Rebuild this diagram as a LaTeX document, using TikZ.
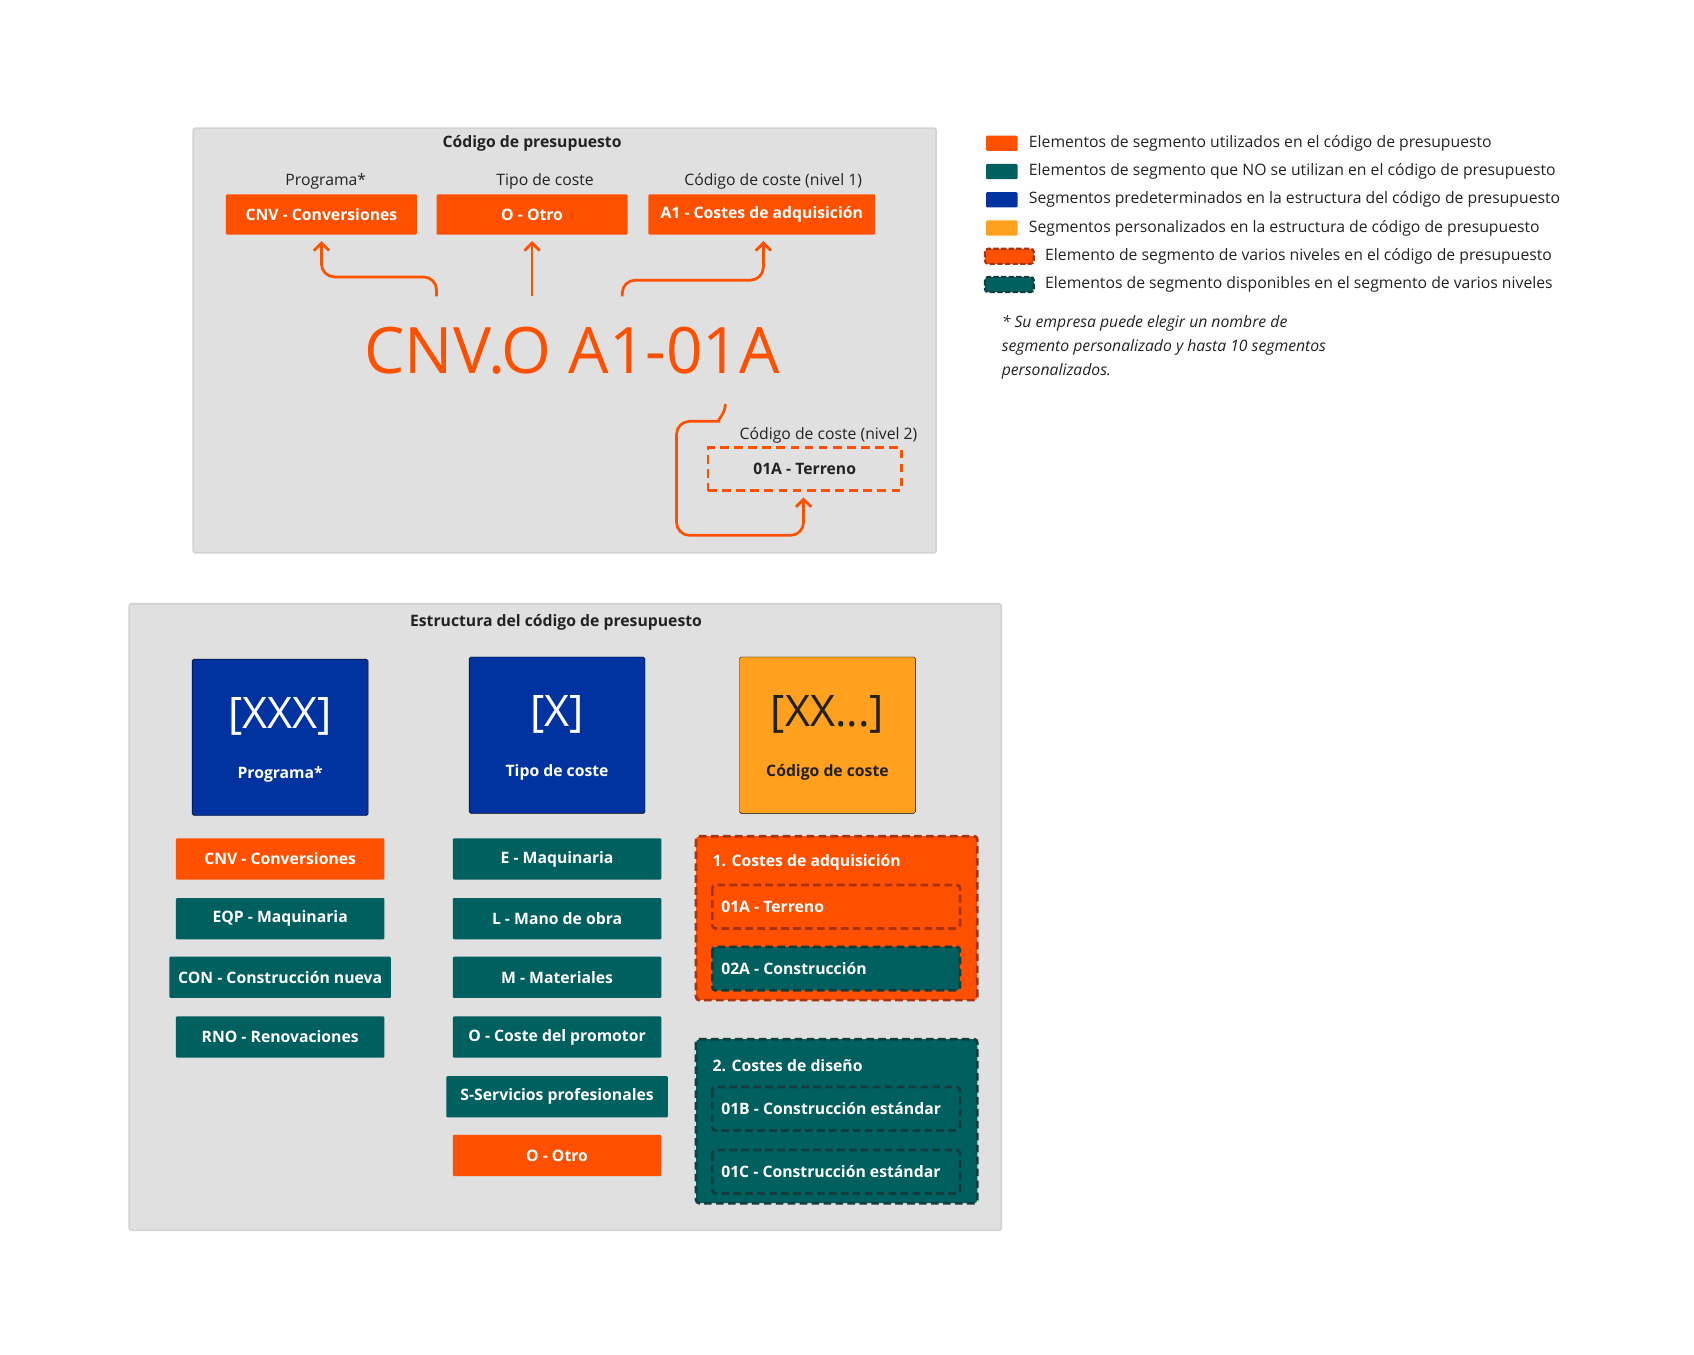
\documentclass[tikz,border=0pt]{standalone}
\usepackage{fontspec}
\setmainfont{Open Sans}
\usetikzlibrary{arrows.meta}
\definecolor{org}{HTML}{FF5000}
\definecolor{tea}{HTML}{005F5F}
\definecolor{blu}{HTML}{0033A0}
\definecolor{amb}{HTML}{FFA01E}
\definecolor{pan}{HTML}{E0E0E0}
\definecolor{panb}{HTML}{D2D2D2}
\definecolor{dred}{HTML}{A83214}
\definecolor{dtea}{HTML}{143C3C}
\definecolor{txt}{HTML}{222222}
\tikzset{
 x=1pt,y=-1pt,
 panel/.style={draw=panb,line width=1.5pt,fill=pan,rounded corners=2pt},
 bx/.style={fill=#1,text=white,font=\bfseries\fontsize{14.5}{17}\selectfont,inner sep=0pt,rounded corners=1pt},
 lab/.style={font=\fontsize{14.5}{17}\selectfont,text=txt},
 ttl/.style={font=\bfseries\fontsize{14.5}{17}\selectfont,text=txt},
 big/.style={fill=#1,inner sep=0pt,rounded corners=1.5pt},
 dsh/.style={draw=#1,line width=2.5pt,dash pattern=on 7pt off 4pt,rounded corners=3pt},
 arr/.style={draw=org,line width=2.5pt,-{Straight Barb[length=7pt,width=14pt]},rounded corners=12pt},
 leg/.style={font=\fontsize{14.5}{17}\selectfont,text=txt,anchor=west},
}
\begin{document}
\begin{tikzpicture}
\useasboundingbox (0,0) rectangle (1560,1247);
% top panel
\draw[panel] (178,118) rectangle (862,509);
\node[ttl] (t1) at (490,132) {Código de presupuesto};
\node[lab] (l1) at (300,167) {Programa*};
\node[lab] (l2) at (502,167) {Tipo de coste};
\node[lab] (l3) at (712,167) {Código de coste (nivel 1)};
\node[bx=org,minimum width=176,minimum height=37] (b1) at (296,197.5) {CNV - Conversiones};
\node[bx=org,minimum width=176,minimum height=37] (b2) at (490,197.5) {O - Otro};
\node[bx=org,minimum width=209,minimum height=37] (b3) at (701.5,197.5) {A1 - Costes de adquisición};
\node[text=org,font=\fontsize{59}{64}\selectfont] (code) at (527,323) {CNV.O A1-01A};
\coordinate (c1) at (402,273);
\coordinate (c2) at (490,273);
\coordinate (c3) at (573,273);
\draw[arr] (c1) -- (402,255) -- (296,255) -- (b1.south|-0,222);
\draw[arr] (c2) -- (490,222);
\draw[arr] (c3) -- (573,258) -- (703,258) -- (703,222);
\node[lab] (l4) at (763,401) {Código de coste (nivel 2)};
\node[draw=org,line width=2.5pt,dash pattern=on 8pt off 5pt,minimum width=178,minimum height=40,font=\bfseries\fontsize{14.5}{17}\selectfont,text=txt] (t01) at (741,432) {01A - Terreno};
\coordinate (c4) at (668,372);
\draw[arr] (c4) to[out=-90,in=0] (650,388) -- (623,388) -- (623,493) -- (740,493) -- (740,458);
% legend
\fill[org,rounded corners=1pt] (908,125) rectangle (937,139);
\fill[tea,rounded corners=1pt] (908,151) rectangle (937,165);
\fill[blu,rounded corners=1pt] (908,177) rectangle (937,191);
\fill[amb,rounded corners=1pt] (908,203) rectangle (937,217);
\draw[fill=org,dsh=dred,line width=2pt,dash pattern=on 5pt off 2pt] (907,229) rectangle (952,243);
\draw[fill=tea,dsh=dtea,line width=2pt,dash pattern=on 5pt off 2pt] (907,255) rectangle (952,269);
\node[leg] (g1) at (944,132) {Elementos de segmento utilizados en el código de presupuesto};
\node[leg] (g2) at (944,158) {Elementos de segmento que NO se utilizan en el código de presupuesto};
\node[leg] (g3) at (944,184) {Segmentos predeterminados en la estructura del código de presupuesto};
\node[leg] (g4) at (944,210) {Segmentos personalizados en la estructura de código de presupuesto};
\node[leg] (g5) at (959,236) {Elemento de segmento de varios niveles en el código de presupuesto};
\node[leg] (g6) at (959,262) {Elementos de segmento disponibles en el segmento de varios niveles};
\node[leg,font=\itshape\fontsize{14.5}{22}\selectfont,align=left,anchor=north west] (note) at (919,287) {* Su empresa puede elegir un nombre de\\segmento personalizado y hasta 10 segmentos\\personalizados.};
% bottom panel
\draw[panel] (119,556) rectangle (922,1133);
\node[ttl] (t2) at (512,573) {Estructura del código de presupuesto};
\draw[big=blu] (177,607) rectangle (339,751);
\node[text=white,font=\fontsize{40}{44}\selectfont] (s1) at (258,660) {[XXX]};
\node[text=white,font=\bfseries\fontsize{14.5}{17}\selectfont] (s1b) at (258,713) {Programa*};
\draw[big=blu] (432,605) rectangle (594,749);
\node[text=white,font=\fontsize{40}{44}\selectfont] (s2) at (513,658) {[X]};
\node[text=white,font=\bfseries\fontsize{14.5}{17}\selectfont] (s2b) at (513,711) {Tipo de coste};
\draw[big=amb] (681,605) rectangle (843,749);
\node[text=txt,font=\fontsize{40}{44}\selectfont] (s3) at (762,658) {[XX...]};
\node[text=txt,font=\bfseries\fontsize{14.5}{17}\selectfont] (s3b) at (762,711) {Código de coste};
% col1
\node[bx=org,minimum width=192,minimum height=38] (p1) at (258,791) {CNV - Conversiones};
\node[bx=tea,minimum width=192,minimum height=38] (p2) at (258,846) {EQP - Maquinaria};
\node[bx=tea,minimum width=204,minimum height=38] (p3) at (258,900) {CON - Construcción nueva};
\node[bx=tea,minimum width=192,minimum height=38] (p4) at (258,955) {RNO - Renovaciones};
% col2
\node[bx=tea,minimum width=192,minimum height=38] (q1) at (513,791) {E - Maquinaria};
\node[bx=tea,minimum width=192,minimum height=38] (q2) at (513,846) {L - Mano de obra};
\node[bx=tea,minimum width=192,minimum height=38] (q3) at (513,900) {M - Materiales};
\node[bx=tea,minimum width=192,minimum height=38] (q4) at (513,955) {O - Coste del promotor};
\node[bx=tea,minimum width=204,minimum height=38] (q5) at (513,1010) {S-Servicios profesionales};
\node[bx=org,minimum width=192,minimum height=38] (q6) at (513,1064) {O - Otro};
% col3
\draw[fill=org,dsh=dred] (641,770) rectangle (900,921);
\node[bx=org,anchor=west,fill=none] (r0) at (656,794) {1. Costes de adquisición};
\draw[dsh=dred] (656,815) rectangle (884,855);
\node[bx=org,anchor=west,fill=none] (r1) at (664,835) {01A - Terreno};
\draw[fill=tea,dsh=dtea] (656,872) rectangle (884,912);
\node[bx=tea,anchor=west,fill=none] (r2) at (664,892) {02A - Construcción};
\draw[fill=tea,dsh=dtea] (641,957) rectangle (900,1108);
\node[bx=tea,anchor=west,fill=none] (u0) at (656,981) {2. Costes de diseño};
\draw[dsh=dtea] (656,1001) rectangle (884,1041);
\node[bx=tea,anchor=west,fill=none] (u1) at (664,1021) {01B - Construcción estándar};
\draw[dsh=dtea] (656,1059) rectangle (884,1099);
\node[bx=tea,anchor=west,fill=none] (u2) at (664,1079) {01C - Construcción estándar};
\end{tikzpicture}
\end{document}
